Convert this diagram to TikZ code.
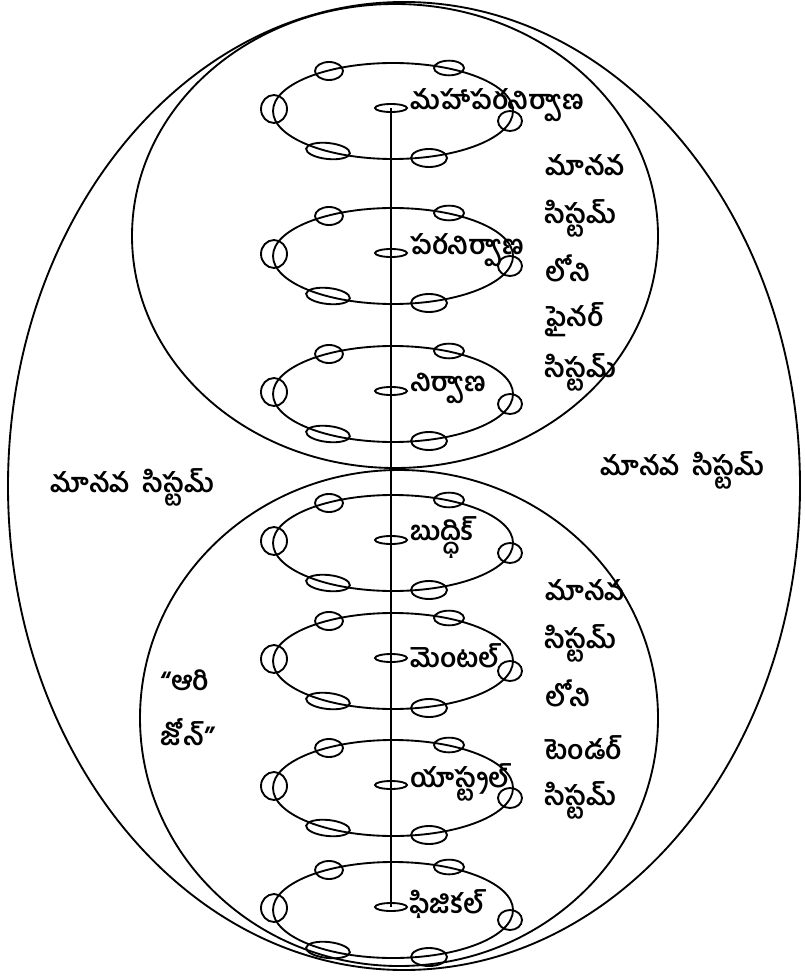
\documentclass[tikz,border=0pt]{standalone}
\usepackage{fontspec}
\usetikzlibrary{shapes.geometric}
\newfontfamily\tel[Script=Telugu]{Hind Guntur}
\begin{document}
\begin{tikzpicture}[x=0.75pt,y=-0.75pt,line width=1.4pt,
  oval/.style={draw,ellipse,inner sep=0pt,line width=1.4pt},
  ring/.style={oval,minimum width=180pt,minimum height=72pt},
  dot/.style={oval,minimum width=24pt,minimum height=6pt},
  lab/.style={font=\tel\fontsize{20}{23}\selectfont\bfseries,inner sep=1pt},
  side/.style={lab,anchor=west}]
\useasboundingbox (0,0) rectangle (804,980);
% big outlines
\node[oval,minimum width={792*0.75pt},minimum height={968*0.75pt}] (outer) at (404,486) {};
\node[oval,minimum width={526*0.75pt},minimum height={464*0.75pt}] (fine) at (395,236) {};
\node[oval,minimum width={518*0.75pt},minimum height={496*0.75pt}] (tender) at (399,718) {};
% rings
\foreach \n/\y/\t in {1/111/మహాపరనిర్వాణ,2/256/పరనిర్వాణ,3/394/నిర్వాణ,4/543/బుద్ధిక్,5/661/మెంటల్,6/788/యాస్ట్రల్,7/910/ఫిజికల్}{
  \node[ring] (r\n) at (393,\y) {};
  \node[oval,minimum width=21pt,minimum height=13.5pt] (tl\n) at (329,{\y-40}) {};
  \node[oval,minimum width=22.5pt,minimum height=11pt] (tr\n) at (449,{\y-43}) {};
  \node[oval,minimum width=19.5pt,minimum height=21pt] (le\n) at (274,{\y-2}) {};
  \node[oval,minimum width=18pt,minimum height=15pt] (ri\n) at (510,{\y+10}) {};
  \node[oval,minimum width=33pt,minimum height=12pt,rotate=-6] (bl\n) at (328,{\y+40}) {};
  \node[oval,minimum width=27pt,minimum height=13.5pt] (br\n) at (429,{\y+47}) {};
  \node[dot] (c\n) at (391,{\y-3}) {};
  \node[lab,anchor=west] (t\n) at ([yshift=2pt]c\n.east) {\t};
}
\draw (c1.center) -- (c7.center);
% side texts
\node[side] (a1) at (543,165) {మానవ};
\node[side] (a2) at (543,218) {సిస్టమ్};
\node[side] (a3) at (543,268) {లోని};
\node[side] (a4) at (543,320) {ఫైనర్};
\node[side] (a5) at (543,372) {సిస్టమ్};
\node[side] (b1) at (543,590) {మానవ};
\node[side] (b2) at (543,643) {సిస్టమ్};
\node[side] (b3) at (543,693) {లోని};
\node[side] (b4) at (543,748) {టెండర్};
\node[side] (b5) at (543,800) {సిస్టమ్};
\node[side] (ml) at (48,487) {మానవ\ \ సిస్టమ్};
\node[side] (mr) at (598,470) {మానవ\ \ సిస్టమ్};
\node[side] (z1) at (158,680) {“ఆరి};
\node[side] (z2) at (158,732) {జోన్”};
\end{tikzpicture}
\end{document}
